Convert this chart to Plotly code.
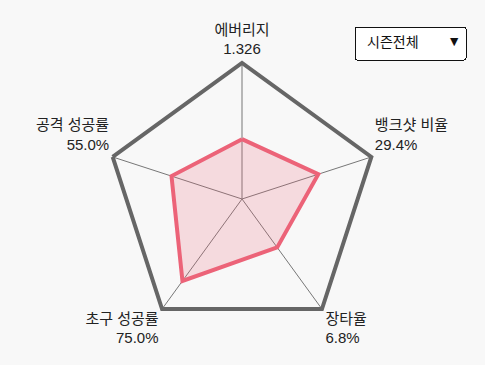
import plotly.graph_objects as go

categories = ["에버리지", "뱅크샷 비율", "장타율", "초구 성공률", "공격 성공률"]
value_labels = ["1.326", "29.4%", "6.8%", "75.0%", "55.0%"]
scores = [0.44, 0.59, 0.44, 0.745, 0.545]  # normalized radar values
label_positions = ["top center", "top right", "bottom right", "bottom left", "top left"]
label_gap = [6.4, 4.0, 4.0, 4.0, 4.0]  # invisible marker sizes used as label offsets
season_options = ["시즌전체"]

FONT = "Liberation Sans, Noto Sans CJK KR, sans-serif"
TXT = "#222222"

theta = categories + categories[:1]
r = scores + scores[:1]
label_text = [f"{c}<br>{v}" for c, v in zip(categories, value_labels)]

fig = go.Figure()
fig.add_trace(go.Scatterpolar(
    r=r, theta=theta, mode="lines",
    fill="toself", fillcolor="rgba(236,99,120,0.2)",
    line=dict(color="#ec6378", width=4),
    hoverinfo="skip", showlegend=False,
))
fig.add_trace(go.Scatterpolar(
    r=[1] * len(categories), theta=categories, mode="markers+text",
    marker=dict(size=label_gap, opacity=0),
    text=label_text, textposition=label_positions,
    textfont=dict(family=FONT, size=15, color=TXT),
    cliponaxis=False, hoverinfo="skip", showlegend=False,
))

fig.update_layout(
    width=485, height=365, autosize=False,
    margin=dict(l=0, r=0, t=0, b=0),
    paper_bgcolor="#f8f8f8", plot_bgcolor="#f8f8f8",
    font=dict(family=FONT, size=14, color=TXT),
    polar=dict(
        domain=dict(x=[106/485, 378/485], y=[1-335/365, 1-63/365]),
        bgcolor="#f8f8f8",
        gridshape="linear",
        radialaxis=dict(range=[0, 1], visible=False, showgrid=False, showline=False),
        angularaxis=dict(
            direction="clockwise", rotation=90, type="category",
            categoryarray=categories,
            showline=True, linecolor="#666", linewidth=4,
            showgrid=True, gridcolor="#777", gridwidth=1,
            ticks="", showticklabels=False,
        ),
    ),
    updatemenus=[dict(
        type="dropdown", direction="down", showactive=False,
        x=354/485, xanchor="left", y=1-26/365, yanchor="top",
        bgcolor="#ffffff", bordercolor="#111", borderwidth=1,
        font=dict(family=FONT, size=14, color="#111"),
        pad=dict(l=0, r=0, t=0, b=0),
        buttons=[dict(label=s + "\u00a0" * 5, method="skip", args=[None]) for s in season_options],
    )],
)

fig.write_html(
    "out.html",
    config={"displayModeBar": False},
    post_script="document.body.style.margin='0';document.body.style.background='#f8f8f8';",
)
